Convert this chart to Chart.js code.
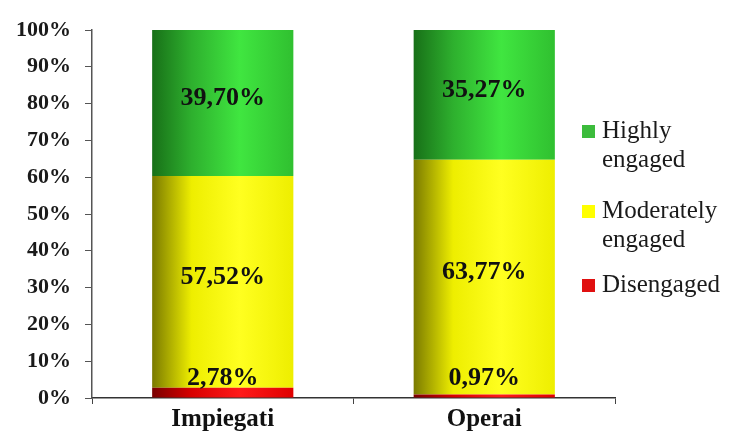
<!DOCTYPE html>
<html>
<head>
<meta charset="utf-8">
<script src="https://cdn.jsdelivr.net/npm/chart.js@4/dist/chart.umd.min.js"></script>
<style>
  html, body { margin: 0; padding: 0; background: #fff; }
  #wrap { width: 732px; height: 435px; position: relative; }
</style>
</head>
<body>
<div id="wrap"><canvas id="engage"></canvas></div>
<script>
'use strict';
const categories = ['Impiegati', 'Operai'];
const disengaged = [2.78, 0.97];
const moderately = [57.52, 63.77];
const highly = [39.70, 35.27];
const yTicks = [0, 10, 20, 30, 40, 50, 60, 70, 80, 90, 100];

const seriesNames = [['Disengaged'], ['Moderately', 'engaged'], ['Highly', 'engaged']];
// left edge, mid, brightest, right edge
const shades = [
  ['#7a0000', '#d80000', '#ff1a1a', '#e00000'],
  ['#7a7a00', '#eeee00', '#ffff20', '#eeee00'],
  ['#187018', '#2eb02e', '#40e640', '#30c030']
];
const legendSwatch = ['#e01010', '#ffff00', '#3cbc3c'];
const BAR_PCT = 0.54;
const serif = '"Liberation Serif", "Times New Roman", serif';

function barFill(i) {
  return function(ctx) {
    const chart = ctx.chart;
    const xs = chart.scales.x;
    if (!chart.chartArea || !xs) return shades[i][2];
    const c = xs.getPixelForValue(ctx.dataIndex);
    const half = xs.width / categories.length * BAR_PCT / 2;
    const g = chart.ctx.createLinearGradient(c - half, 0, c + half, 0);
    g.addColorStop(0, shades[i][0]);
    g.addColorStop(0.28, shades[i][1]);
    g.addColorStop(0.62, shades[i][2]);
    g.addColorStop(1, shades[i][3]);
    return g;
  };
}

const valueLabels = {
  id: 'valueLabels',
  afterDatasetsDraw(chart) {
    const ctx = chart.ctx;
    const zero = chart.scales.y.getPixelForValue(0);
    ctx.save();
    ctx.font = 'bold 26px ' + serif;
    ctx.fillStyle = '#111';
    ctx.textAlign = 'center';
    ctx.textBaseline = 'middle';
    chart.data.datasets.forEach((ds, di) => {
      chart.getDatasetMeta(di).data.forEach((bar, j) => {
        const h = Math.abs(bar.base - bar.y);
        const y = h < 30 ? zero - 20 : (bar.y + bar.base) / 2 - 5;
        ctx.fillText(ds.data[j].toFixed(2).replace('.', ',') + '%', bar.x, y);
      });
    });
    ctx.restore();
  }
};

const sideLegend = {
  id: 'sideLegend',
  afterDraw(chart) {
    const ctx = chart.ctx;
    const rows = [131, 211, 285];
    ctx.save();
    ctx.font = '25px ' + serif;
    ctx.textBaseline = 'middle';
    ctx.textAlign = 'left';
    [2, 1, 0].forEach((si, k) => {
      const y = rows[k];
      ctx.fillStyle = legendSwatch[si];
      ctx.fillRect(582, y - 6, 13, 13);
      ctx.fillStyle = '#1a1a1a';
      seriesNames[si].forEach((line, li) => {
        ctx.fillText(line, 602, y + li * 29);
      });
    });
    ctx.restore();
  }
};

new Chart(document.getElementById('engage'), {
  type: 'bar',
  data: {
    labels: categories,
    datasets: [
      { label: 'Disengaged', data: disengaged, backgroundColor: barFill(0) },
      { label: 'Moderately engaged', data: moderately, backgroundColor: barFill(1) },
      { label: 'Highly engaged', data: highly, backgroundColor: barFill(2) }
    ]
  },
  options: {
    responsive: true,
    maintainAspectRatio: false,
    animation: false,
    barPercentage: BAR_PCT,
    categoryPercentage: 1,
    layout: { padding: { left: 2, right: 117, top: 30, bottom: 0 } },
    plugins: {
      legend: { display: false },
      tooltip: { enabled: false }
    },
    scales: {
      x: {
        stacked: true,
        grid: { display: true, offset: true, drawOnChartArea: false, color: '#444', tickLength: 6 },
        border: { color: '#333', width: 1.5 },
        ticks: { color: '#111', padding: 3, font: { family: serif, size: 25, weight: 'bold', lineHeight: 1.0 } }
      },
      y: {
        stacked: true,
        min: 0,
        max: 100,
        afterBuildTicks(scale) { scale.ticks = yTicks.map(v => ({ value: v })); },
        grid: { display: true, drawOnChartArea: false, color: '#555', tickLength: 7 },
        border: { color: '#555', width: 1.5 },
        ticks: {
          color: '#1a1a1a',
          padding: 14,
          font: { family: serif, size: 22, weight: 'bold' },
          callback: v => v + '%'
        }
      }
    }
  },
  plugins: [valueLabels, sideLegend]
});
</script>
</body>
</html>
